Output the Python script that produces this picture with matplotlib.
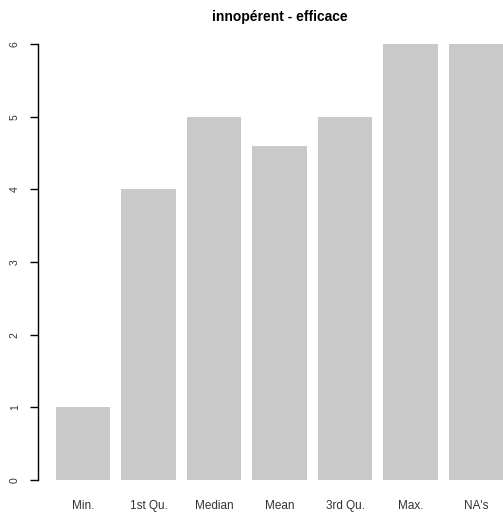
import matplotlib
matplotlib.use("Agg")
import matplotlib.pyplot as plt

plt.rcParams["font.family"] = ["Liberation Sans", "DejaVu Sans"]

categories = ["Min.", "1st Qu.", "Median", "Mean", "3rd Qu.", "Max.", "NA's"]
values = [1, 4, 5, 4.6, 5, 6, 6]

fig = plt.figure(figsize=(5.03, 5.19), dpi=100)
# R-style plot region (extends past the right edge like the original)
ax = fig.add_axes([0.0755, 0.0416, 0.961, 0.907])

# R barplot geometry: width 1, space 0.2
lefts = [0.2 + i * 1.2 for i in range(len(values))]
centers = [l + 0.5 for l in lefts]
ax.bar(centers, values, width=1.0, color="#c9c9c9", edgecolor="none")

ax.set_xlim(-0.128, 8.728)
ax.set_ylim(-0.24, 6.24)

for s in ["top", "right", "bottom"]:
    ax.spines[s].set_visible(False)
ax.spines["left"].set_bounds(0, 6)
ax.spines["left"].set_linewidth(1.0)

ax.set_yticks(range(0, 7))
ax.set_yticklabels([str(v) for v in range(0, 7)], rotation=90, va="center",
                   fontsize=7.5, color="#333333")
ax.tick_params(axis="y", length=6, width=1.0, pad=7)

ax.set_xticks(centers)
ax.set_xticklabels(categories, fontsize=8.5, color="#333333")
ax.tick_params(axis="x", length=0, pad=2)

ax.set_title("innopérent - efficace", fontsize=10, fontweight="bold", pad=4)

fig.savefig("out.png", dpi=100)
